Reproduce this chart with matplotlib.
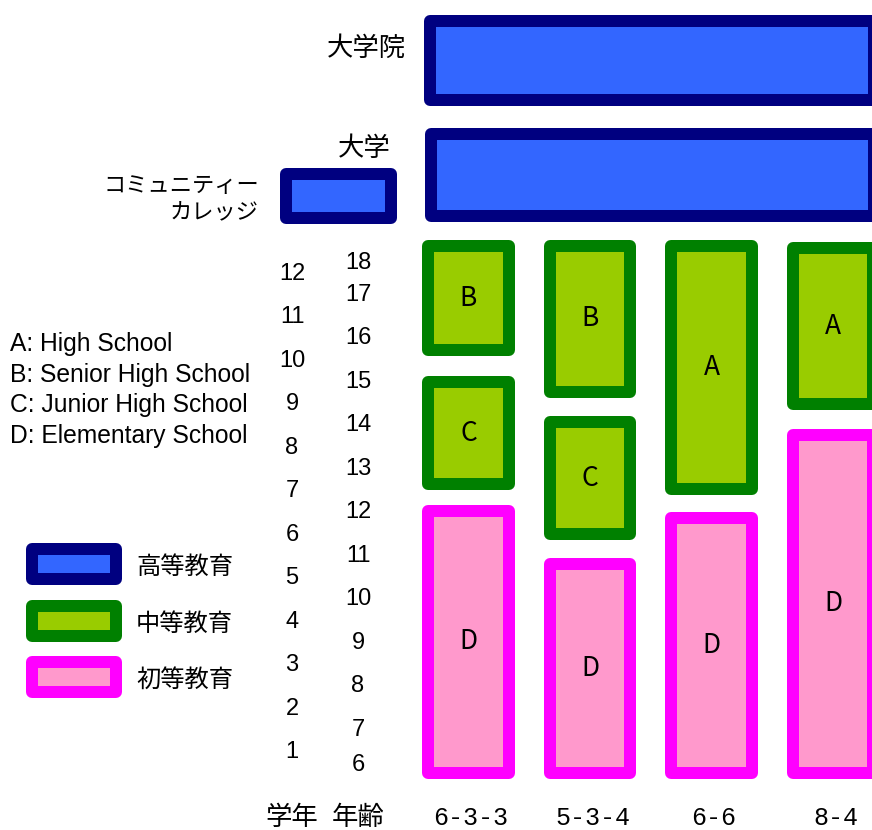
import matplotlib
matplotlib.use("Agg")
import matplotlib.pyplot as plt
from matplotlib.patches import Rectangle

plt.rcParams['font.family'] = ['Noto Sans CJK JP', 'DejaVu Sans']

# school systems (columns) and their segments, in years from the start of grade 1
SYSTEMS = ['6-3-3', '5-3-4', '6-6', '8-4']
SEG_SYSTEM = [0, 0, 0, 1, 1, 1, 2, 2, 3, 3]
SEG_LABEL = ['D', 'C', 'B', 'D', 'C', 'B', 'D', 'A', 'D', 'A']
SEG_LEVEL = ['初等', '中等', '中等', '初等', '中等', '中等', '初等', '中等', '初等', '中等']
SEG_START = [0.00, 6.64, 9.72, 0.00, 5.49, 8.76, 0.00, 6.53, 0.00, 8.48]
SEG_END = [6.30, 9.26, 12.39, 5.08, 8.34, 12.39, 6.14, 12.39, 8.05, 12.34]

# higher education (x span in column units, y span in years)
HIGHER = ['大学院', '大学', 'コミュニティー', 'カレッジ']
HIGHER_X0 = [-0.37, -0.36, -1.55]
HIGHER_X1 = [3.39, 3.39, -0.59]
HIGHER_Y0 = [15.47, 12.80, 12.76]
HIGHER_Y1 = [17.56, 14.97, 14.05]

GRADES = list(range(1, 13))
AGES = list(range(6, 19))

LEGEND_TEXT = ['A: High School', 'B: Senior High School',
               'C: Junior High School', 'D: Elementary School']
LEVELS = ['高等', '中等', '初等']
LEVEL_NAMES = ['高等教育', '中等教育', '初等教育']

STYLE = {
    '高等': ('#000080', '#3366ff'),
    '中等': ('#008000', '#99cc00'),
    '初等': ('#ff00ff', '#ff99cc'),
}

# pixel layout of the data axes
X0, XS = 468.5, 121.5   # px of column 0, px per column
Y0, YS = 779.0, 43.5    # px of year 0, px per year
W, H = 872, 830
LW_PX = 12


def px(x, y):
    return (x - X0) / XS, (Y0 - y) / YS


fig = plt.figure(figsize=(W / 100, H / 100), dpi=100)
ax = fig.add_axes([0, 0, 1, 1])
ax.set_xlim(px(0, 0)[0], px(W, 0)[0])
ax.set_ylim(px(0, H)[1], px(0, 0)[1])
ax.axis('off')

lw_pt = LW_PX * 72 / 100
dx = LW_PX / 2 / XS
dy = LW_PX / 2 / YS


def box(x0, x1, y0, y1, level):
    edge, face = STYLE[level]
    r = Rectangle((x0 + dx, y0 + dy), x1 - x0 - 2 * dx, y1 - y0 - 2 * dy,
                  facecolor=face, edgecolor=edge, linewidth=lw_pt,
                  joinstyle='round', clip_on=True)
    ax.add_patch(r)


BOX_W = 0.76
for s, lab, lev, y0, y1 in zip(SEG_SYSTEM, SEG_LABEL, SEG_LEVEL, SEG_START, SEG_END):
    box(s - BOX_W / 2, s + BOX_W / 2, y0, y1, lev)
    ax.text(s, (y0 + y1) / 2, lab, ha='center', va='center', fontsize=19)

for x0, x1, y0, y1 in zip(HIGHER_X0, HIGHER_X1, HIGHER_Y0, HIGHER_Y1):
    box(x0, x1, y0, y1, '高等')

# higher-ed labels
ax.text(*px(406, 48), HIGHER[0], ha='right', va='center', fontsize=19)
ax.text(*px(364, 148), HIGHER[1], ha='center', va='center', fontsize=19)
ax.text(*px(259, 185), HIGHER[2], ha='right', va='center', fontsize=16)
ax.text(*px(259, 213), HIGHER[3], ha='right', va='center', fontsize=16)

# column labels
bottom = px(0, 825)[1]
for i, name in enumerate(SYSTEMS):
    ax.text(i + 0.02, bottom, name, ha='center', va='baseline', fontsize=18,
            family='Liberation Mono')

# grade and age scales
gx = px(292, 0)[0]
agx = px(358, 0)[0]
for g in GRADES:
    ax.text(gx, g - 0.38, str(g), ha='center', va='center', fontsize=17,
            family='Liberation Sans')
for a in AGES:
    y = min(max(a - 5.87, 0.32), 11.86)
    ax.text(agx, y, str(a), ha='center', va='center', fontsize=17,
            family='Liberation Sans')
ax.text(gx, bottom, '学年', ha='center', va='baseline', fontsize=19)
ax.text(agx, bottom, '年齢', ha='center', va='baseline', fontsize=19)

# school type key
for i, t in enumerate(LEGEND_TEXT):
    ax.text(*px(10, 344 + 30.5 * i), t, ha='left', va='center', fontsize=17.75,
            family='Liberation Sans')

# level legend
for i, (lev, name) in enumerate(zip(LEVELS, LEVEL_NAMES)):
    top = 543 + 56.5 * i
    (lx0, ly1), (lx1, ly0) = px(26, top), px(122, top + 42)
    box(lx0, lx1, ly0, ly1, lev)
    ax.text(*px(136, top + 24), name, ha='left', va='center', fontsize=17.5)

fig.savefig('out.png', dpi=100)
